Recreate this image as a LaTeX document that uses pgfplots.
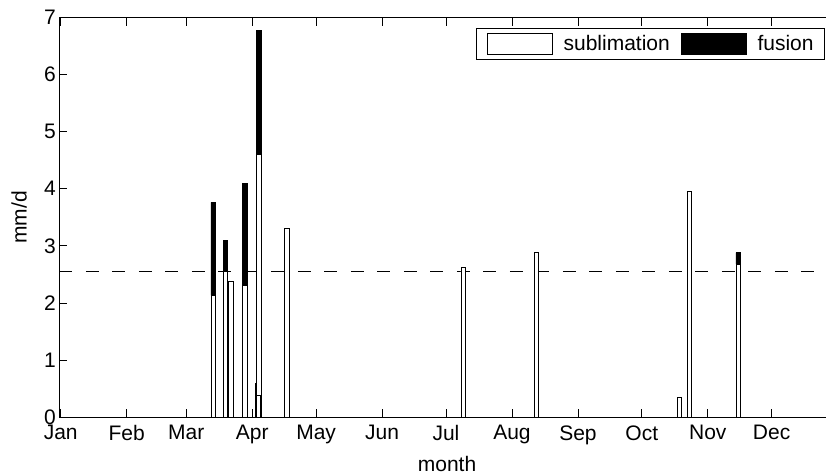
\documentclass[border=0pt]{standalone}
\usepackage{fontspec}
\setmainfont{Liberation Sans}
\usepackage{pgfplots}
\usepackage{pgfplotstable}
\pgfplotsset{compat=1.18}

% day of year, sublimation, fusion (mm/d)
\pgfplotstableread{
day   sub   fus
72.7  2.13  1.63
78.4  2.55  0.55
80.8  2.38  0
87.6  2.30  1.79
94.1  4.60  2.18
93.6  0.385 0.205
107.1 3.31  0
190.1 2.63  0
224.4 2.88  0
291.7 0.34  0
296.4 3.96  0
319.3 2.68  0.20
}\melt

\newcommand{\lbl}{\fontsize{21}{25}\selectfont}

\begin{document}
\begin{tikzpicture}
\begin{axis}[
  scale only axis,
  width=776.2pt, height=399.5pt,
  xmin=0.35, xmax=365,
  ymin=0, ymax=7,
  ybar stacked,
  bar width=2.2,
  xtick={1,32,60,91,121,152,182,213,244,274,305,335},
  xticklabels={Jan,Feb,Mar,Apr,May,Jun,Jul,Aug,Sep,Oct,Nov,Dec},
  ytick={0,1,2,3,4,5,6,7},
  extra y ticks={2.55},
  extra y tick labels={},
  extra y tick style={grid=major, major tick length=0pt,
    major grid style={black, line width=0.7pt, dash pattern=on 13pt off 13.5pt}},
  tick align=inside,
  major tick length=8pt,
  tick style={black, line width=0.7pt},
  axis line style={black, line width=0.8pt},
  /pgf/number format/assume math mode=true,
  ticklabel style={font=\lbl},
  xticklabel style={yshift=-5pt},
  xlabel={month},
  ylabel={mm/d},
  label style={font=\lbl},
  xlabel style={at={(axis description cs:0.4995,-0.136)}, anchor=base},
  ylabel style={at={(axis description cs:-0.042,0.5)}, anchor=base},
  legend columns=2,
  legend image code/.code={\draw[#1,/tikz/.cd,line width=0.7pt] (0pt,-10.5pt) rectangle (65pt,10.5pt);},
  legend style={at={(1,1)}, anchor=north east, xshift=-10.6pt, yshift=-10.8pt,
    draw=black, line width=0.7pt, font=\lbl,
    inner xsep=11pt, inner ysep=4.3pt, column sep=11pt,
    nodes={inner sep=0pt, anchor=center}},
]
\addplot[fill=white, draw=black, line width=0.7pt] table[x=day, y=sub] {\melt};
\addlegendentry{sublimation}
\addplot[fill=black, draw=black, line width=0.7pt] table[x=day, y=fus] {\melt};
\addlegendentry{fusion}
\end{axis}
\pgfresetboundingbox
\path[use as bounding box] (-59.3pt,-58pt) rectangle (766.7pt,417pt);
\end{tikzpicture}
\end{document}
